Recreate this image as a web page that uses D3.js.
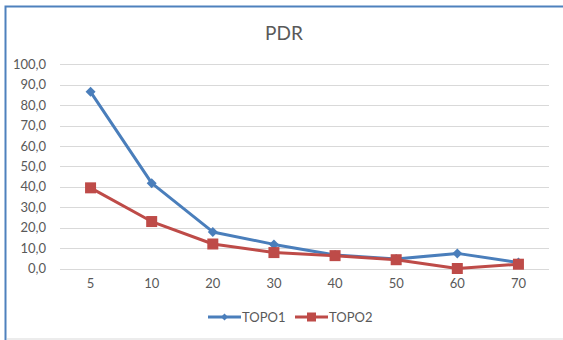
<!DOCTYPE html>
<html>
<head>
<meta charset="utf-8">
<script src="https://cdn.jsdelivr.net/npm/d3@7"></script>
<style>
  html, body { margin: 0; padding: 0; background: #ffffff; }
  svg { display: block; }
  text { font-family: Lato, "Open Sans", sans-serif; fill: #595959; }
</style>
</head>
<body>
<svg id="chart" width="563" height="340"></svg>
<script>
// PDR per category for the two topologies
const categories = ["5", "10", "20", "30", "40", "50", "60", "70"];
const topo1 = [86.5, 41.8, 17.9, 11.8, 6.6, 4.7, 7.4, 2.9];
const topo2 = [39.5, 23.0, 12.0, 7.8, 6.3, 4.3, 0.0, 2.1];
const yTicks = [0, 10, 20, 30, 40, 50, 60, 70, 80, 90, 100];
const seriesNames = ["TOPO1", "TOPO2"];
const colors = ["#4A7EBB", "#BE4B48"];

const svg = d3.select("#chart");

// chart area frame
svg.append("rect").attr("x", 0).attr("y", 0).attr("width", 563).attr("height", 340).attr("fill", "#ffffff");
svg.append("rect").attr("x", 7).attr("y", 338).attr("width", 556).attr("height", 2).attr("fill", "#ececec");
svg.append("rect").attr("x", 5.5).attr("y", 6.5).attr("width", 600).attr("height", 400)
  .attr("fill", "none").attr("stroke", "#4F81BD").attr("stroke-width", 2);

const x = d3.scaleBand().domain(categories).range([60, 549]);
const y = d3.scaleLinear().domain([0, 100]).range([268.5, 64.3]);

// horizontal gridlines
svg.append("g").selectAll("line").data(yTicks).join("line")
  .attr("x1", 60).attr("x2", 549)
  .attr("y1", d => Math.round(y(d)) + 0.5).attr("y2", d => Math.round(y(d)) + 0.5)
  .attr("stroke", "#d9d9d9").attr("stroke-width", 1);

// y axis labels
const yAxis = d3.axisLeft(y).tickValues(yTicks).tickSize(0).tickPadding(0)
  .tickFormat(d => d3.format(".1f")(d).replace(".", ","));
const gy = svg.append("g").attr("transform", "translate(46,0)").call(yAxis);
gy.select(".domain").remove();
gy.selectAll("text").attr("font-size", 13).attr("fill", "#595959")
  .style("font-family", "Lato, 'Open Sans', sans-serif");

// x axis labels
const xAxis = d3.axisBottom(x).tickSize(0).tickPadding(0);
const gx = svg.append("g").attr("transform", "translate(0,279)").call(xAxis);
gx.select(".domain").remove();
gx.selectAll("text").attr("font-size", 13).attr("fill", "#595959")
  .style("font-family", "Lato, 'Open Sans', sans-serif");

// title
svg.append("text").attr("x", 284).attr("y", 40).attr("text-anchor", "middle")
  .attr("font-size", 19).text("PDR");

const cx = c => x(c) + x.bandwidth() / 2;
const line = d3.line().x((d, i) => cx(categories[i])).y(d => y(d));

function drawMarker(g, kind, px, py, color) {
  if (kind === 0) {
    const s = 5;
    g.append("path").attr("d", `M${px},${py - s}L${px + s},${py}L${px},${py + s}L${px - s},${py}Z`)
      .attr("fill", color);
  } else {
    const s = 5.5;
    g.append("rect").attr("x", px - s).attr("y", py - s).attr("width", 2 * s).attr("height", 2 * s)
      .attr("fill", color);
  }
}

[topo1, topo2].forEach((vals, k) => {
  const g = svg.append("g");
  g.append("path").datum(vals).attr("d", line).attr("fill", "none")
    .attr("stroke", colors[k]).attr("stroke-width", 3).attr("stroke-linejoin", "round");
  vals.forEach((v, i) => drawMarker(g, k, cx(categories[i]), y(v), colors[k]));
});

// legend
const legendX = [208, 295];
seriesNames.forEach((name, k) => {
  const g = svg.append("g");
  const lx = legendX[k], ly = 317;
  g.append("line").attr("x1", lx).attr("x2", lx + 33).attr("y1", ly).attr("y2", ly)
    .attr("stroke", colors[k]).attr("stroke-width", 3);
  if (k === 0) {
    g.append("path").attr("d", `M${lx + 16.5},${ly - 3.5}L${lx + 20},${ly}L${lx + 16.5},${ly + 3.5}L${lx + 13},${ly}Z`).attr("fill", colors[k]);
  } else {
    g.append("rect").attr("x", lx + 12).attr("y", ly - 4.5).attr("width", 9).attr("height", 9).attr("fill", colors[k]);
  }
  g.append("text").attr("x", lx + 34).attr("y", ly + 5).attr("font-size", 13).text(name);
});
</script>
</body>
</html>
